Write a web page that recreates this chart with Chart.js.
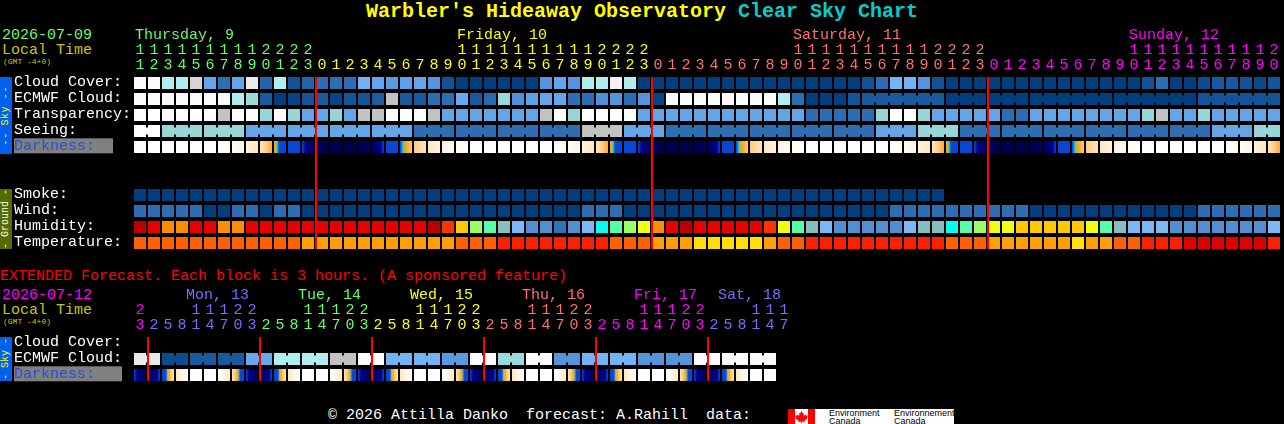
<!DOCTYPE html>
<html><head><meta charset="utf-8">
<script src="https://cdn.jsdelivr.net/npm/chart.js@4/dist/chart.umd.min.js"></script>
<style>
html,body{margin:0;padding:0;background:#000;width:1284px;height:424px;overflow:hidden}
canvas{position:absolute;left:0}
.t{position:absolute;white-space:pre;font:15px/15px "Liberation Mono",monospace;color:#fff}
.band{position:absolute;left:0;width:12px;display:flex;align-items:center;justify-content:center}
.band span{writing-mode:vertical-rl;transform:rotate(180deg);font:10px/12px "Liberation Mono",monospace;white-space:pre}
</style></head><body>
<div class="t" style="left:366px;top:1px;font:bold 20px/22px 'Liberation Mono',monospace;color:#ffff00">Warbler's Hideaway Observatory <span style="color:#00d0d0">Clear Sky Chart</span></div>
<div class="t" style="left:2px;top:28px;color:#66ff66">2026-07-09</div>
<div class="t" style="left:2px;top:43px;color:#c8c800">Local Time</div>
<div class="t" style="left:3px;top:57px;font-size:8px;line-height:9px;color:#c8c800">(GMT -4+0)</div>
<div class="band" style="top:77px;height:77px;background:#0060f0"><span style="color:#ffff00;letter-spacing:.6px">-- Sky --</span></div>
<div class="band" style="top:189px;height:60px;background:#556b00"><span style="color:#fff">- Ground -</span></div>
<canvas id="main" width="1284" height="253" style="top:0;width:1284px;height:253px"></canvas>
<div class="t" style="left:0;top:269px;color:#ff0000">EXTENDED Forecast. Each block is 3 hours. (A sponsored feature)</div>
<div class="t" style="left:2px;top:288px;color:#ff00ff">2026-07-12</div>
<div class="t" style="left:2px;top:303px;color:#c8c800">Local Time</div>
<div class="t" style="left:3px;top:317px;font-size:8px;line-height:9px;color:#c8c800">(GMT -4+0)</div>
<div class="band" style="top:337px;height:44px;background:#0060f0"><span style="color:#ffff00">- Sky -</span></div>
<canvas id="ext" width="1284" height="105" style="top:280px;width:1284px;height:105px"></canvas>
<div class="t" style="left:328px;top:408px">© 2026 Attilla Danko  forecast: A.Rahill  data:</div>
<div style="position:absolute;left:788px;top:409px;width:166px;height:15px;background:#fff;overflow:hidden">
<div style="position:absolute;left:0;top:0;width:7px;height:15px;background:#f00"></div>
<div style="position:absolute;left:20px;top:0;width:7px;height:15px;background:#f00"></div>
<svg style="position:absolute;left:7px;top:2px" width="13" height="12" viewBox="0 0 13 12"><path fill="#f00" d="M6.5 0 8 2.5 9 2 8.7 5 10.5 3.5 11 4.5 13 4.500 12 7 12.5 7.5 9.5 9.5 10 11 7 10.5V12H6V10.500 L3 11 3.500 9.500 .5 7.500 1 7 0 4.500H2L2.500 3.500 4.300 5 4 2 5 2.500Z"/></svg>
<div class="t" style="left:41px;top:0;font:9px/8px 'Liberation Sans',sans-serif;color:#000">Environment
Canada</div>
<div class="t" style="left:106px;top:0;font:9px/8px 'Liberation Sans',sans-serif;color:#000">Environnement
Canada</div>
</div>
<script>
// ---------- hour axes ----------
const hourLabels = [11,12,13,14,15,16,17,18,19,20,21,22,23,
 0,1,2,3,4,5,6,7,8,9,10,11,12,13,14,15,16,17,18,19,20,21,22,23,
 0,1,2,3,4,5,6,7,8,9,10,11,12,13,14,15,16,17,18,19,20,21,22,23,
 0,1,2,3,4,5,6,7,8,9,10,11,12,13,14,15,16,17,18,19,20];
const extHourLabels = [23,
 2,5,8,11,14,17,20,23, 2,5,8,11,14,17,20,23, 2,5,8,11,14,17,20,23,
 2,5,8,11,14,17,20,23, 2,5,8,11,14,17,20,23, 2,5,8,11,14,17];
const midnightCols = [13,37,61];
const extMidnightCols = [1,9,17,25,33,41];

// ---------- day headers ----------
const dayNames = ['Thursday, 9','Friday, 10','Saturday, 11','Sunday, 12'];
const dayLabelCols = [0,23,47,71];
const extDayNames = ['Mon, 13','Tue, 14','Wed, 15','Thu, 16','Fri, 17','Sat, 18'];
const extDayLabelCols = [3.65,11.65,19.65,27.65,35.65,41.65];
const GREEN='#66ff66',YELLOW='#ffff00',SALMON='#ff7070',MAGENTA='#ff00ff',BLUE='#7070ff';
const dayColors = [GREEN,YELLOW,SALMON,MAGENTA];
const extDayColors = [BLUE,GREEN,YELLOW,SALMON,MAGENTA,BLUE];

// ---------- main forecast rows ----------
const rowLabels = ['Cloud Cover:','ECMWF Cloud:','Transparency:','Seeing:','Darkness:  ','','','Smoke:','Wind:','Humidity:','Temperature:'];
const cloudCover = [100,100,70,70,85,40,20,40,90,15,70,7,15,20,20,20,47,40,35,38,40,32,7,
 0,0,0,0,0,0,32,40,32,70,70,95,70,0,0,0,0,0,0,0,0,0,0,0,0,0,0,0,0,
 7,20,47,47,32,7,0,0,0,0,0,0,0,0,0,0,0,0,0,0,7,20,0,0,5,10,10,7,4,8];
const ecmwfCloud = [100,100,100,100,100,100,100,70,60,10,0,2,8,10,2,8,8,12,80,10,10,
 20,20,42,10,18,60,30,38,40,40,20,20,30,32,20,32,2,
 100,100,100,100,100,100,100,100,70,20,0,0,0,8,
 10,10,10,10,10,10,0,0,0,0,0,0,0,0,0,0,0,0,0,0,0,0,0,0,8,8,8,8,8,8];
const ecmwfRuns = [[52,6],[58,3],[61,3],[64,6],[70,6],[76,6]];
const transparency = [5,5,5,5,5,5,4,5,5,3,5,3,2,2,3,2,4,4,5,5,5,4,
 2,2,2,2,2,2,2,4,5,3,5,5,5,5,2,
 2,2,2,2,2,2,2,2,2,2,2,1,1,1,1,1,3,5,5,3,2,2,2,2,2,1,1,
 2,2,2,2,2,2,2,2,3,4,2,2,3,2,2,2,2,2];
const seeing = [5,5,3,3,3,3,3,3,2,2,2,2,2,2,2,2,2,2,2,2,1,1,1,
 1,1,1,1,1,1,1,1,1,4,4,4,2,2,2,1,1,1,1,1,1,1,1,1,1,1,1,1,1,1,
 2,2,2,3,3,3,1,1,1,1,1,1,1,1,1,1,1,1,1,1,1,1,1,1,2,2,2,3,3];
const seeingRuns = [[0,2],[2,3],[5,3],[8,3],[11,3],[14,3],[17,3],[20,3],[23,3],[26,3],[29,3],[32,3],[35,3],
 [38,3],[41,3],[44,3],[47,3],[50,3],[53,3],[56,3],[59,3],[62,3],[65,3],[68,3],[71,3],[74,3],[77,3],[80,2]];
// darkness at the left edge of each block (last value closes the final block); 0 = daylight, 8 = full dark
const darkness = [0,0,0,0,0,0,0,.5,1.2,2,3.7,6,6,7.6,8,8,8,7.8,6,4.7,3,2,1.2,.5,
 0,0,0,0,0,0,0,.5,1.2,2,3.7,6,6,7.6,8,8,8,7.8,6,4.7,3,2,1.2,.5,
 0,0,0,0,0,0,0,.5,1.2,2,3.7,6,6,7.6,8,8,8,7.8,6,4.7,3,2,1.2,.5,
 0,0,0,0,0,0,0,.5,1.2,2,3.7];
const smoke = [0,0,0,0,0,0,0,0,0,0, 0,0,0,0,0,0,0,0,0,0, 0,0,0,0,0,0,0,0,0,0,
 0,0,0,0,0,0,0,0,0,0, 0,0,0,0,0,0,0,0,0,0, 0,0,0,0,0,0,0,0];
const wind = [1,1,1,1,1,0,0,1,1,0,1,1,0,0,0,0,0,0,0,0,0,0,0,0,0,0,0,0,0,0,0,0,1,1,1,0,0,0,0,0,0,0,0,0,0,0,0,0,0,0,0,0,0,0,
 1,1,1,1,1,1,1,1,1,1,0,0,0,0,0,0,0,0,0,0,0,0,1,1,1,1,1,1];
const humidity = [95,90,80,80,90,90,80,80,90,90,90,90,90,90,90,90,90,90,90,90,90,
 95,85,75,60,55,45,40,35,35,30,35,40,50,55,60,65,80,90,95,90,90,90,90,90,85,65,55,45,40,35,35,
 35,35,35,40,45,45,50,55,60,65,65,75,75,75,75,75,65,55,45,40,40,40,35,35,35,35,35,35,35,40];
const temperature = [18,18,18,18,18,18,18,18,18,18,18,18,16,16,16,16,16,16,16,16,16,16,16,
 18,18,18,20,20,20,20,20,20,20,20,18,18,18,16,16,16,14,14,14,14,14,16,18,18,20,20,20,20,
 20,20,20,20,20,20,18,18,18,16,16,16,16,16,16,14,16,16,18,18,20,20,20,22,22,22,22,22,22,20];

// ---------- extended rows ----------
const extRowLabels = ['Cloud Cover:','ECMWF Cloud:','Darkness:   '];
const extEcmwf = [90,90,5,5,10,10,10,10,42,42,70,70,70,70,80,80,100,100,47,47,47,47,35,35,100,100,60,60,100,100,32,32,47,47,47,47,32,32,32,32,100,100,100,100,100,100];
const extRuns = [[0,2],[2,2],[4,2],[6,2],[8,2],[10,2],[12,2],[14,2],[16,2],[18,2],[20,2],[22,2],[24,2],[26,2],[28,2],[30,2],[32,2],[34,2],[36,2],[38,2],[40,2],[42,2],[44,2]];
const extDarkness = [6,8,6,2,0,0,0,2,6,8,6,2,0,0,0,2,6,8,6,2,0,0,0,2,6,8,6,2,0,0,0,2,6,8,6,2,0,0,0,2,6,8,6,2,0,0,0];

// ---------- colour ramps (value -> colour) ----------
const hex = c => [1,3,5].map(i=>parseInt(c.substr(i,2),16));
function ramp(stops, v){
  if (v<=stops[0][0]) return stops[0][1];
  for (let i=1;i<stops.length;i++) if (v<=stops[i][0]) {
    const [a,ca]=stops[i-1],[b,cb]=stops[i],t=(v-a)/(b-a),A=hex(ca),B=hex(cb);
    return 'rgb('+A.map((q,k)=>Math.round(q+(B[k]-q)*t)).join(',')+')';
  }
  return stops[stops.length-1][1];
}
const cloudRamp = [[0,'#003e7e'],[10,'#195a9f'],[20,'#2d6eb3'],[30,'#4f90d6'],[40,'#63a5ea'],[50,'#77b9fa'],[60,'#9adada'],[70,'#aeeeee'],[80,'#c2c2c2'],[90,'#eaeaea'],[100,'#fbfbfb']];
const qualityRamp = [[0,'#003e7e'],[1,'#2d6eb3'],[2,'#63a5e6'],[3,'#96d6d6'],[4,'#c2c2c2'],[5,'#ffffff']];
const darkRamp = [[0,'#ffffff'],[1,'#fff5e6'],[2,'#ffe6c0'],[3,'#ffc878'],[4,'#ffa000'],[4.3,'#00e0ff'],[4.6,'#0a46d0'],[6,'#0a46d0'],[6.5,'#000090'],[8,'#000050']];
const windRamp = [[0,'#003e7e'],[1,'#2d6eb3']];
const humidityRamp = [[30,'#2f72b5'],[35,'#5090d0'],[40,'#7ab8f8'],[45,'#86bfbf'],[50,'#00ffee'],[55,'#55ffaa'],[60,'#99ff66'],[65,'#eeff14'],[75,'#ffc800'],[80,'#ff8c00'],[85,'#ff3300'],[90,'#e80000'],[95,'#b80000']];
const tempRamp = [[14,'#ffe000'],[16,'#ffa000'],[18,'#ff6000'],[20,'#ff2000'],[22,'#e00000']];

const ROW_H = 0.75;                    // block height as a fraction of a row
const cells = (values, row, colorOf) => ({
  type:'bar', xAxisID:'x', order:2, maxBarThickness:12,
  data: values.map((v,i)=>({x:i,y:[row,row+ROW_H]})),
  backgroundColor: values.map(colorOf)
});
const gradientCells = (values, row) => ({
  type:'bar', xAxisID:'x', order:2, maxBarThickness:12,
  data: values.slice(0,-1).map((v,i)=>({x:i,y:[row,row+ROW_H]})),
  backgroundColor: c => {
    const i=c.dataIndex, sx=c.chart.scales.x;
    if (i===undefined || !sx) return '#fff';
    const l=sx.getPixelForValue(i)-6, r=l+12;
    if (!isFinite(l)) return '#fff';
    const g=c.chart.ctx.createLinearGradient(l,0,r,0);
    for (let k=0;k<=12;k++) g.addColorStop(k/12, ramp(darkRamp, values[i]+(values[i+1]-values[i])*k/12));
    return g;
  }
});
// thin bridges between the blocks of one forecast run
const bridges = (runs, row, colors) => ({
  type:'bar', xAxisID:'xc', order:1, maxBarThickness:2,
  data: runs.flatMap(([s,n])=>Array.from({length:n-1},(_,k)=>({x:s+k+.5,y:[row+.15,row+.6]}))),
  backgroundColor: runs.flatMap(([s,n])=>Array.from({length:n-1},()=>colors[s]))
});
const redLines = (cols, top, bottom) => ({
  type:'bar', xAxisID:'xr', order:0, maxBarThickness:2,
  data: cols.map(c=>({x:c-.5,y:[top,bottom]})), backgroundColor:'#ff0000'
});
const dayPlugin = (names, at, colors, dayY) => ({
  id:'days',
  afterDraw(ch){
    const c=ch.ctx; c.save(); c.font='15px "Liberation Mono", monospace'; c.textBaseline='middle'; c.textAlign='left';
    names.forEach((n,i)=>{ c.fillStyle=colors[i]; c.fillText(n, ch.scales.x.getPixelForValue(at[i])-5, dayY); });
    c.restore();
  }
});

function build(id, hours, colorAt, rows, rowCount, datasets, plugin, xH, darkLabel){
  const labelRows = rows.map((l,i)=>i).filter(i=>rows[i]);
  return new Chart(document.getElementById(id),{
    type:'bar',
    data:{datasets},
    plugins:[plugin],
    options:{
      responsive:false, animation:false, devicePixelRatio:1,
      layout:{autoPadding:false,padding:{left:14,right:3,top:0,bottom:0}},
      datasets:{bar:{grouped:false,inflateAmount:0,borderWidth:0,barThickness:12}},
      plugins:{legend:{display:false},tooltip:{enabled:false},title:{display:false}},
      scales:{
        x:{type:'linear',position:'top',offset:false,min:-.5,max:81.5,bounds:'data',
           grid:{display:false,drawTicks:false,offset:false},border:{display:false},
           afterBuildTicks:s=>{s.ticks=hours.map((h,i)=>({value:i}));},
           afterFit:s=>{s.height=xH;s.paddingLeft=s.paddingRight=0;},
           ticks:{autoSkip:false,maxRotation:0,minRotation:0,padding:4,
             font:{family:'"Liberation Mono", monospace',size:15,lineHeight:1},
             color:c=>colorAt(c.index),
             callback:(v,i)=>{const h=hours[i]; return h>=10?[String(Math.floor(h/10)),String(h%10)]:[' ',String(h)];}}},
        xc:{type:'linear',position:'top',offset:false,display:false,min:-.5,max:81.5,bounds:'data',grid:{offset:false}},
        // midnight rules sit one pixel right of the block gap
        xr:{type:'linear',position:'top',offset:false,display:false,min:-.5-1/14,max:81.5-1/14,bounds:'data',grid:{offset:false}},
        y:{type:'linear',reverse:true,min:0,max:rowCount,bounds:'data',
           grid:{display:false,drawTicks:false},border:{display:false},
           afterBuildTicks:s=>{s.ticks=labelRows.map(r=>({value:r+.3}));},
           afterFit:s=>{s.width=119;s.paddingTop=s.paddingBottom=0;},
           ticks:{autoSkip:false,crossAlign:'far',padding:0,
             font:{family:'"Liberation Mono", monospace',size:15,lineHeight:1},
             color:c=>labelRows[c.index]===darkLabel?'#2050e0':'#ffffff',
             showLabelBackdrop:c=>labelRows[c.index]===darkLabel,
             backdropColor:'#808080',backdropPadding:0,
             callback:(v,i)=>rows[labelRows[i]]}}
      }
    }
  });
}
const cloudC=v=>ramp(cloudRamp,v), qualC=v=>ramp(qualityRamp,v);
const mainColorAt=i=> i<13?GREEN: i<37?YELLOW: i<61?SALMON: MAGENTA;
const extColorAt=i=> i<1?MAGENTA: i<9?BLUE: i<17?GREEN: i<25?YELLOW: i<33?SALMON: i<41?MAGENTA: BLUE;

build('main',hourLabels,mainColorAt,rowLabels,11,[
  cells(cloudCover,0,cloudC),
  cells(ecmwfCloud,1,cloudC),
  bridges(ecmwfRuns,1,ecmwfCloud.map(cloudC)),
  cells(transparency,2,qualC),
  cells(seeing,3,qualC),
  bridges(seeingRuns,3,seeing.map(qualC)),
  gradientCells(darkness,4),
  cells(smoke,7,cloudC),
  cells(wind,8,v=>ramp(windRamp,v)),
  cells(humidity,9,v=>ramp(humidityRamp,v)),
  cells(temperature,10,v=>ramp(tempRamp,v)),
  redLines(midnightCols,0,10.75)
],dayPlugin(dayNames,dayLabelCols,dayColors,35),77,4);

build('ext',extHourLabels,extColorAt,extRowLabels,3,[
  cells(extEcmwf,1,cloudC),
  bridges(extRuns,1,extEcmwf.map(cloudC)),
  gradientCells(extDarkness,2),
  redLines(extMidnightCols,0,2.75)
],dayPlugin(extDayNames,extDayLabelCols,extDayColors,15.5),57,2);
</script>
</body></html>
